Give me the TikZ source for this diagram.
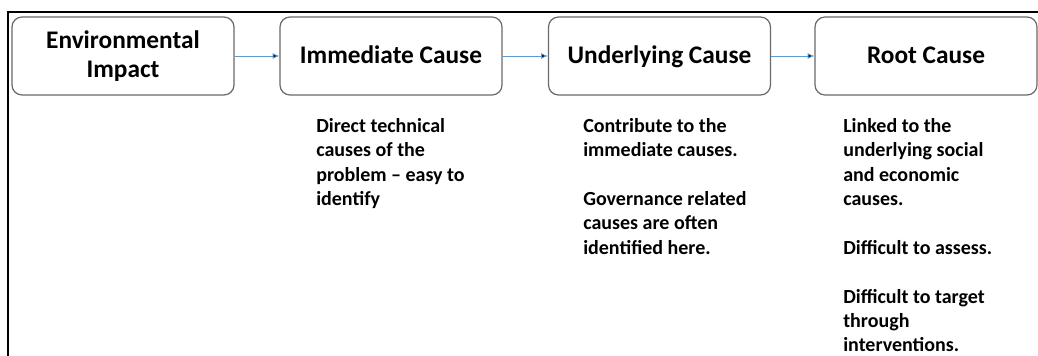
\documentclass[tikz,border=0pt]{standalone}
\usepackage{fontspec}
\setmainfont{Carlito}
\usetikzlibrary{arrows.meta}
\definecolor{flowblue}{RGB}{91,155,213}
\definecolor{boxgray}{RGB}{105,105,105}
\tikzset{
  stage/.style={draw=boxgray, line width=0.9pt, rounded corners=7.5pt,
    minimum width=166.5pt, minimum height=58.5pt, inner sep=2pt, align=center,
    font=\bfseries\fontsize{19}{22}\selectfont},
  oneline/.style={text height=14.3pt, text depth=2.3pt},
  note/.style={anchor=north west, inner sep=0pt, align=left,
    font=\bfseries\fontsize{15}{18.3}\selectfont},
  flow/.style={draw=flowblue, line width=0.7pt, -{Latex[length=5pt,width=4.5pt]}}
}
\begin{document}
\begin{tikzpicture}[x=0.75pt,y=-0.75pt]
\useasboundingbox (0,0) rectangle (1038,356);
\draw[line width=1.6pt] (8,356) -- (8,12) -- (1038,12);

\node[stage] (env) at (123,56) {Environmental\\Impact};
\node[stage,oneline] (imm) at (391,56) {Immediate Cause};
\node[stage,oneline] (und) at (659.5,56) {Underlying Cause};
\node[stage,oneline] (root) at (926,56) {Root Cause};

\path[flow] (env) edge (imm);
\path[flow] (imm) edge (und);
\path[flow] (und) edge (root);

\node[note] (immtxt) at (316,118) {Direct technical\\causes of the\\problem -- easy to\\identify};
\node[note] (undtxt) at (583,118) {Contribute to the\\immediate causes.\\[18.3pt]Governance related\\causes are often\\identified here.};
\node[note] (roottxt) at (843,118) {Linked to the\\underlying social\\and economic\\causes.\\[18.3pt]Difficult to assess.\\[18.3pt]Difficult to target\\through\\interventions.};
\end{tikzpicture}
\end{document}
